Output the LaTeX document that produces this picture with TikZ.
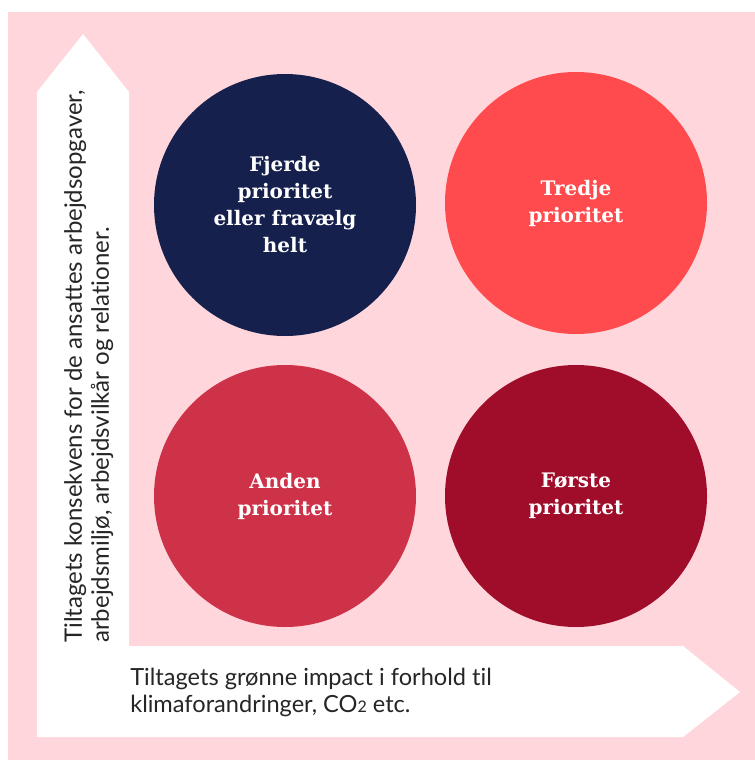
\documentclass[tikz,border=0pt]{standalone}
\usepackage{fontspec}
\setmainfont{Lato}[Ligatures=NoCommon]
\newfontfamily\prioritetfont{DejaVu Serif}
\definecolor{lyserod}{RGB}{255,214,220}
\definecolor{natblaa}{RGB}{21,32,76}
\definecolor{koral}{RGB}{255,75,78}
\definecolor{hindbaer}{RGB}{206,50,72}
\definecolor{vinrod}{RGB}{160,13,43}
\usetikzlibrary{positioning}
\newcommand{\lilletal}[1]{{\fontsize{12}{12}\selectfont #1}}

\begin{document}
\begin{tikzpicture}[x=0.75pt,y=-0.75pt,
  cirkel/.style={circle,minimum size=196.5pt,inner sep=0pt,text=white,align=center,
    font=\prioritetfont\bfseries\fontsize{15}{20.25}\selectfont},
  akse/.style={inner sep=0pt,align=left,text=black!85}]
  % baggrund
  \useasboundingbox (0,0) rectangle (755,760);
  \fill[lyserod] (8,12) rectangle (755,760);
  % akser (hvid pil)
  \fill[white] (37,737) -- (37,92) -- (83,34) -- (129,92) -- (129,646)
    -- (683,646) -- (740,692) -- (683,737) -- cycle;
  % prioriteter
  \node[cirkel,fill=natblaa] (fjerde) at (285,205) {Fjerde\\prioritet\\eller fravælg\\helt};
  \node[cirkel,fill=koral] (tredje) at (576,203) {Tredje\\prioritet};
  \node[cirkel,fill=hindbaer] (anden) at (285,496) {Anden\\prioritet};
  \node[cirkel,fill=vinrod] (forste) at (576,496) {Første\\prioritet};
  % akse-tekster
  \node[akse,anchor=north west,font=\fontsize{17.7}{20.25}\selectfont] (xtekst) at (130,668)
    {Tiltagets grønne impact i forhold til\\klimaforandringer, CO\lilletal{2} etc.};
  \node[akse,anchor=north west,rotate=90,font=\fontsize{18}{20.25}\selectfont] (ytekst) at (64,643)
    {Tiltagets konsekvens for de ansattes arbejdsopgaver,\\arbejdsmiljø, arbejdsvilkår og relationer.};
\end{tikzpicture}
\end{document}
